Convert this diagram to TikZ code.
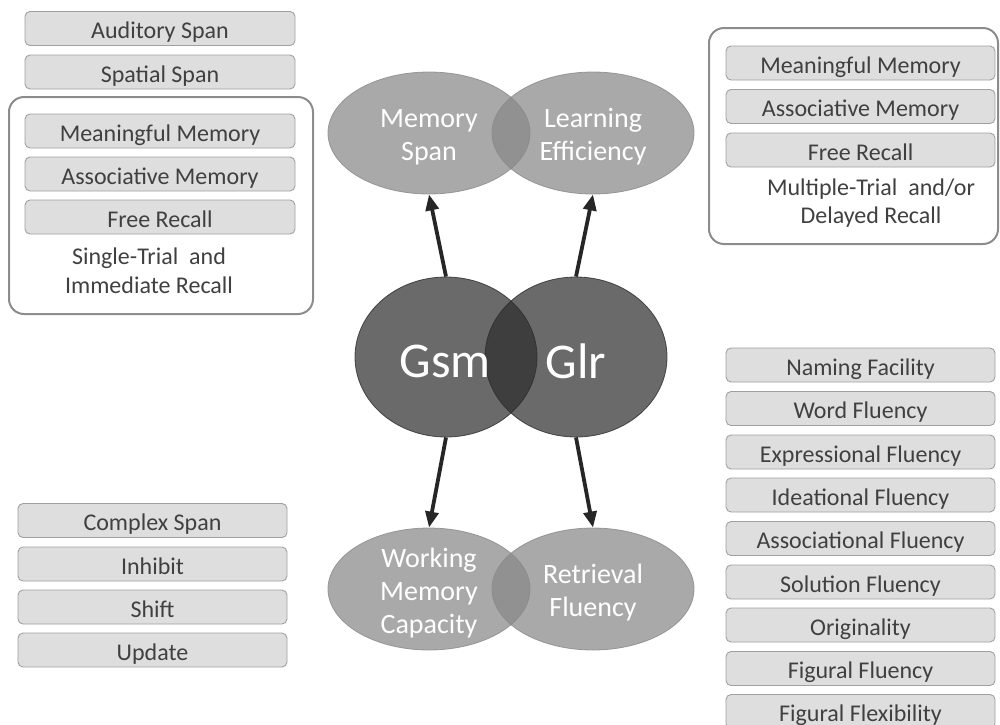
\documentclass[tikz,border=0pt]{standalone}
\usepackage{fontspec}
\setmainfont{Carlito}
\usetikzlibrary{arrows.meta,shapes.geometric}

\definecolor{boxfill}{HTML}{DEDEDE}
\definecolor{boxline}{HTML}{A0A0A0}
\definecolor{boxtext}{HTML}{404040}
\definecolor{frameline}{HTML}{8C8C8C}
\definecolor{facetgrey}{HTML}{888888}
\definecolor{abilitygrey}{HTML}{2B2B2B}
\definecolor{arrowgrey}{HTML}{262626}

\tikzset{
	taskbox/.style={draw=boxline, fill=boxfill, rounded corners=5pt, line width=0.9pt,
		minimum width=270pt, minimum height=34pt, inner sep=0pt, text=boxtext,
		text height=21pt, text depth=1pt, font=\fontsize{24}{28}\selectfont},
	note/.style={text=boxtext, align=center, font=\fontsize{24}{29}\selectfont},
	frame/.style={draw=frameline, line width=2pt, rounded corners=15pt},
	facet/.style={ellipse, fill=facetgrey, fill opacity=0.72, draw=facetgrey, draw opacity=0.8,
		line width=0.8pt, minimum width=202pt, minimum height=122pt},
	facetlabel/.style={text=white, align=center, font=\fontsize{28}{33}\selectfont},
	ability/.style={ellipse, fill=abilitygrey, fill opacity=0.7, draw=abilitygrey, draw opacity=0.8,
		line width=0.8pt, minimum width=182pt, minimum height=160pt},
	abilitylabel/.style={text=white, font=\fontsize{50}{56}\selectfont},
	link/.style={draw=arrowgrey, line width=3.8pt, -{Triangle[length=16pt,width=13pt]}}
}

\begin{document}
\begin{tikzpicture}[x=1pt,y=-1pt]
	\useasboundingbox (0,0) rectangle (1000,724);
	
	% frames
	\draw[frame] (9,97) rectangle (313,314);
	\draw[frame] (709,28) rectangle (998,244);
	
	% left column
	\node[taskbox] (auditory) at (160,28.5) {Auditory Span};
	\node[taskbox] (spatial) at (160,72) {Spatial Span};
	\node[taskbox] (meanL) at (160,131) {Meaningful Memory};
	\node[taskbox] (assocL) at (160,174) {Associative Memory};
	\node[taskbox] (freeL) at (160,217) {Free Recall};
	\node[note] (singletrial) at (149,271) {Single-Trial\ \ and\\Immediate Recall};
	
	\node[taskbox, minimum width=269pt] (complex) at (152.5,520.5) {Complex Span};
	\node[taskbox, minimum width=269pt] (inhibit) at (152.5,564) {Inhibit};
	\node[taskbox, minimum width=269pt] (shift) at (152.5,607) {Shift};
	\node[taskbox, minimum width=269pt] (update) at (152.5,650) {Update};
	
	% right column
	\node[taskbox, minimum width=269pt] (meanR) at (860.5,63) {Meaningful Memory};
	\node[taskbox, minimum width=269pt] (assocR) at (860.5,106.5) {Associative Memory};
	\node[taskbox, minimum width=269pt] (freeR) at (860.5,150) {Free Recall};
	\node[note, font=\fontsize{24}{28}\selectfont] (multitrial) at (871,203) {Multiple-Trial\ \ and/or\\Delayed Recall};
	
	\node[taskbox, minimum width=269pt] (naming) at (860.5,365) {Naming Facility};
	\node[taskbox, minimum width=269pt] (word) at (860.5,408.5) {Word Fluency};
	\node[taskbox, minimum width=269pt] (express) at (860.5,452) {Expressional Fluency};
	\node[taskbox, minimum width=269pt] (idea) at (860.5,495) {Ideational Fluency};
	\node[taskbox, minimum width=269pt] (assocflu) at (860.5,538.5) {Associational Fluency};
	\node[taskbox, minimum width=269pt] (solution) at (860.5,582) {Solution Fluency};
	\node[taskbox, minimum width=269pt] (orig) at (860.5,625) {Originality};
	\node[taskbox, minimum width=269pt] (figflu) at (860.5,668.5) {Figural Fluency};
	\node[taskbox, minimum width=269pt] (figflex) at (860.5,711.5) {Figural Flexibility};
	
	% centre
	\node[facet] (memspan) at (429,133) {};
	\node[facet] (learneff) at (593,133) {};
	\node[facet] (wmc) at (429,589) {};
	\node[facet] (retflu) at (593,589) {};
	\node[ability] (gsm) at (446,357) {};
	\node[ability] (glr) at (576,357) {};
	
	\node[facetlabel] at ([yshift=-4pt]memspan) {Memory\\Span};
	\node[facetlabel] at ([yshift=-4pt]learneff) {Learning\\Efficiency};
	\node[facetlabel] at ([yshift=-4pt]wmc) {Working\\Memory\\Capacity};
	\node[facetlabel] at ([yshift=-4pt]retflu) {Retrieval\\Fluency};
	\node[abilitylabel] at ([xshift=-1pt,yshift=-4pt]gsm) {Gsm};
	\node[abilitylabel] at ([yshift=-4pt]glr) {Glr};
	
	\draw[link] (gsm.north) -- (memspan.south);
	\draw[link] (glr.north) -- (learneff.south);
	\draw[link] (gsm.south) -- (wmc.north);
	\draw[link] (glr.south) -- (retflu.north);
	
\end{tikzpicture}
\end{document}
